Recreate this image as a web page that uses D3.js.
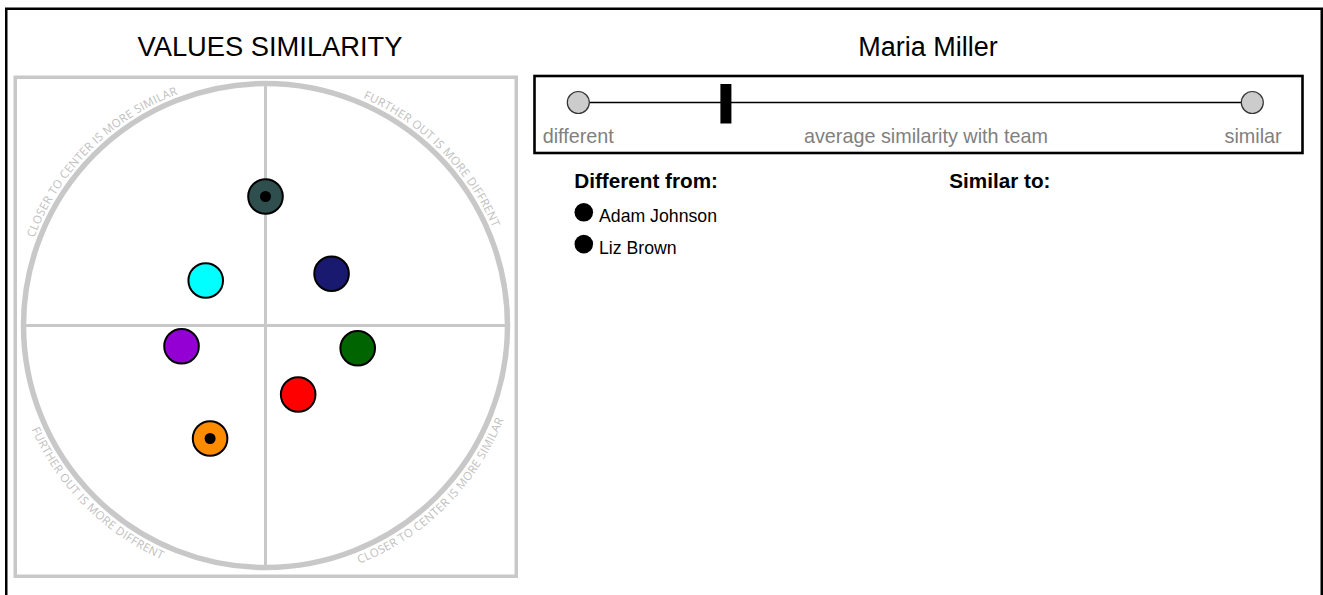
<!DOCTYPE html>
<html>
<head>
<meta charset="utf-8">
<script src="https://cdn.jsdelivr.net/npm/d3@7"></script>
<style>
  html, body { margin: 0; padding: 0; background: #fff; overflow: hidden; }
  svg { display: block; }
</style>
</head>
<body>
<svg id="chart" width="1323" height="595"></svg>
<script>
// ---------------- data ----------------
const chartTitle = "VALUES SIMILARITY";
const personName = "Maria Miller";
const dotColors = ["#2f4f4f", "#00ffff", "#191970", "#9400d3", "#006400", "#ff0000", "#ff8c00"];
const dotX = [0.0, -0.247, 0.273, -0.347, 0.381, 0.135, -0.229];
const dotY = [0.533, 0.186, 0.214, -0.086, -0.094, -0.285, -0.467];
const dotMarked = [true, false, false, false, false, false, true];
const quadrantLabels = [
  "CLOSER TO CENTER IS MORE SIMILAR",   // top-left
  "FURTHER OUT IS MORE DIFFRENT",       // top-right
  "FURTHER OUT IS MORE DIFFRENT",       // bottom-left
  "CLOSER TO CENTER IS MORE SIMILAR"    // bottom-right
];
const similarityValue = 0.219;
const similarityDomain = [0, 1];
const sliderLabels = ["different", "average similarity with team", "similar"];
const differentHeader = "Different from:";
const similarHeader = "Similar to:";
const differentFrom = ["Adam Johnson", "Liz Brown"];
const similarTo = [];

// ---------------- drawing ----------------
const svg = d3.select("#chart");
const sansFont = "'Liberation Sans', Arial, Helvetica, sans-serif";
const gray = "#c8c8c8";

// outer frame
svg.append("rect")
  .attr("x", 6.25).attr("y", 8.75)
  .attr("width", 1315.5).attr("height", 700)
  .attr("fill", "none").attr("stroke", "#000").attr("stroke-width", 2.5);

// ---- left panel ----
svg.append("text")
  .attr("x", 270).attr("y", 56)
  .attr("text-anchor", "middle")
  .attr("font-family", sansFont).attr("font-size", 27.3)
  .attr("fill", "#000")
  .text(chartTitle);

svg.append("rect")
  .attr("x", 15.25).attr("y", 77.25)
  .attr("width", 501).attr("height", 499)
  .attr("fill", "none").attr("stroke", gray).attr("stroke-width", 3.5);

const cx = 265.5, cy = 325.5, R = 242;
const x = d3.scaleLinear().domain([-1, 1]).range([cx - R, cx + R]);
const y = d3.scaleLinear().domain([-1, 1]).range([cy + R, cy - R]);

// cross lines
svg.append("line")
  .attr("x1", x(-1)).attr("x2", x(1)).attr("y1", y(0)).attr("y2", y(0))
  .attr("stroke", gray).attr("stroke-width", 3);
svg.append("line")
  .attr("x1", x(0)).attr("x2", x(0)).attr("y1", y(1)).attr("y2", y(-1))
  .attr("stroke", gray).attr("stroke-width", 3);

svg.append("circle")
  .attr("cx", cx).attr("cy", cy).attr("r", R)
  .attr("fill", "none").attr("stroke", gray).attr("stroke-width", 5.5);

// curved quadrant labels
const defs = svg.append("defs");
const arcSpecs = [
  { a0: Math.PI, a1: 1.5 * Math.PI, ccw: false, r: 247.5 },   // top-left
  { a0: 1.5 * Math.PI, a1: 2 * Math.PI, ccw: false, r: 247.5 },// top-right
  { a0: Math.PI, a1: 0.5 * Math.PI, ccw: true, r: 256 },       // bottom-left
  { a0: 0.5 * Math.PI, a1: 0, ccw: true, r: 256 }              // bottom-right
];
arcSpecs.forEach((s, i) => {
  const p = d3.path();
  p.moveTo(cx + s.r * Math.cos(s.a0), cy + s.r * Math.sin(s.a0));
  p.arc(cx, cy, s.r, s.a0, s.a1, s.ccw);
  defs.append("path").attr("id", "qarc" + i).attr("d", p.toString());
  svg.append("text")
    .attr("font-family", "'Open Sans', sans-serif")
    .attr("font-size", 11.5)
    .attr("letter-spacing", 0.3)
    .attr("fill", "#c0c0c0")
    .append("textPath")
    .attr("href", "#qarc" + i)
    .attr("startOffset", "50%")
    .attr("text-anchor", "middle")
    .text(quadrantLabels[i]);
});

// dots
const dots = svg.append("g");
dotColors.forEach((c, i) => {
  dots.append("circle")
    .attr("cx", x(dotX[i])).attr("cy", y(dotY[i])).attr("r", 17.3)
    .attr("fill", c).attr("stroke", "#000").attr("stroke-width", 2);
  if (dotMarked[i]) {
    dots.append("circle")
      .attr("cx", x(dotX[i])).attr("cy", y(dotY[i])).attr("r", 5.5)
      .attr("fill", "#000");
  }
});

// ---- right panel ----
svg.append("text")
  .attr("x", 928).attr("y", 56)
  .attr("text-anchor", "middle")
  .attr("font-family", sansFont).attr("font-size", 27)
  .attr("fill", "#000")
  .text(personName);

svg.append("rect")
  .attr("x", 534.5).attr("y", 76)
  .attr("width", 768).attr("height", 77)
  .attr("fill", "none").attr("stroke", "#000").attr("stroke-width", 2.6);

const sx = d3.scaleLinear().domain(similarityDomain).range([578.3, 1252.3]);
const sy = 102.5;
svg.append("line")
  .attr("x1", sx(similarityDomain[0])).attr("x2", sx(similarityDomain[1]))
  .attr("y1", sy).attr("y2", sy)
  .attr("stroke", "#000").attr("stroke-width", 1.4);
similarityDomain.forEach(v => {
  svg.append("circle")
    .attr("cx", sx(v)).attr("cy", sy).attr("r", 11)
    .attr("fill", "#cccccc").attr("stroke", "#333").attr("stroke-width", 1.2);
});
svg.append("rect")
  .attr("x", sx(similarityValue) - 5.5).attr("y", 84)
  .attr("width", 11).attr("height", 39.5)
  .attr("fill", "#000");

const labelY = 143;
svg.append("text").attr("x", 542.7).attr("y", labelY)
  .attr("font-family", sansFont).attr("font-size", 19.8).attr("fill", "#808080")
  .text(sliderLabels[0]);
svg.append("text").attr("x", 926).attr("y", labelY).attr("text-anchor", "middle")
  .attr("font-family", sansFont).attr("font-size", 19.8).attr("fill", "#808080")
  .text(sliderLabels[1]);
svg.append("text").attr("x", 1281.7).attr("y", labelY).attr("text-anchor", "end")
  .attr("font-family", sansFont).attr("font-size", 19.8).attr("fill", "#808080")
  .text(sliderLabels[2]);

// lists
function drawList(x0, header, names) {
  svg.append("text").attr("x", x0).attr("y", 188.3)
    .attr("font-family", sansFont).attr("font-size", 20.7).attr("font-weight", "bold")
    .attr("fill", "#000").text(header);
  names.forEach((n, i) => {
    const by = 221.7 + i * 31.8;
    svg.append("circle").attr("cx", x0 + 9.5).attr("cy", by - 9.4).attr("r", 9.3).attr("fill", "#000");
    svg.append("text").attr("x", x0 + 24.7).attr("y", by)
      .attr("font-family", sansFont).attr("font-size", 17.7)
      .attr("fill", "#000").text(n);
  });
}
drawList(574.3, differentHeader, differentFrom);
drawList(949.3, similarHeader, similarTo);
</script>
</body>
</html>
